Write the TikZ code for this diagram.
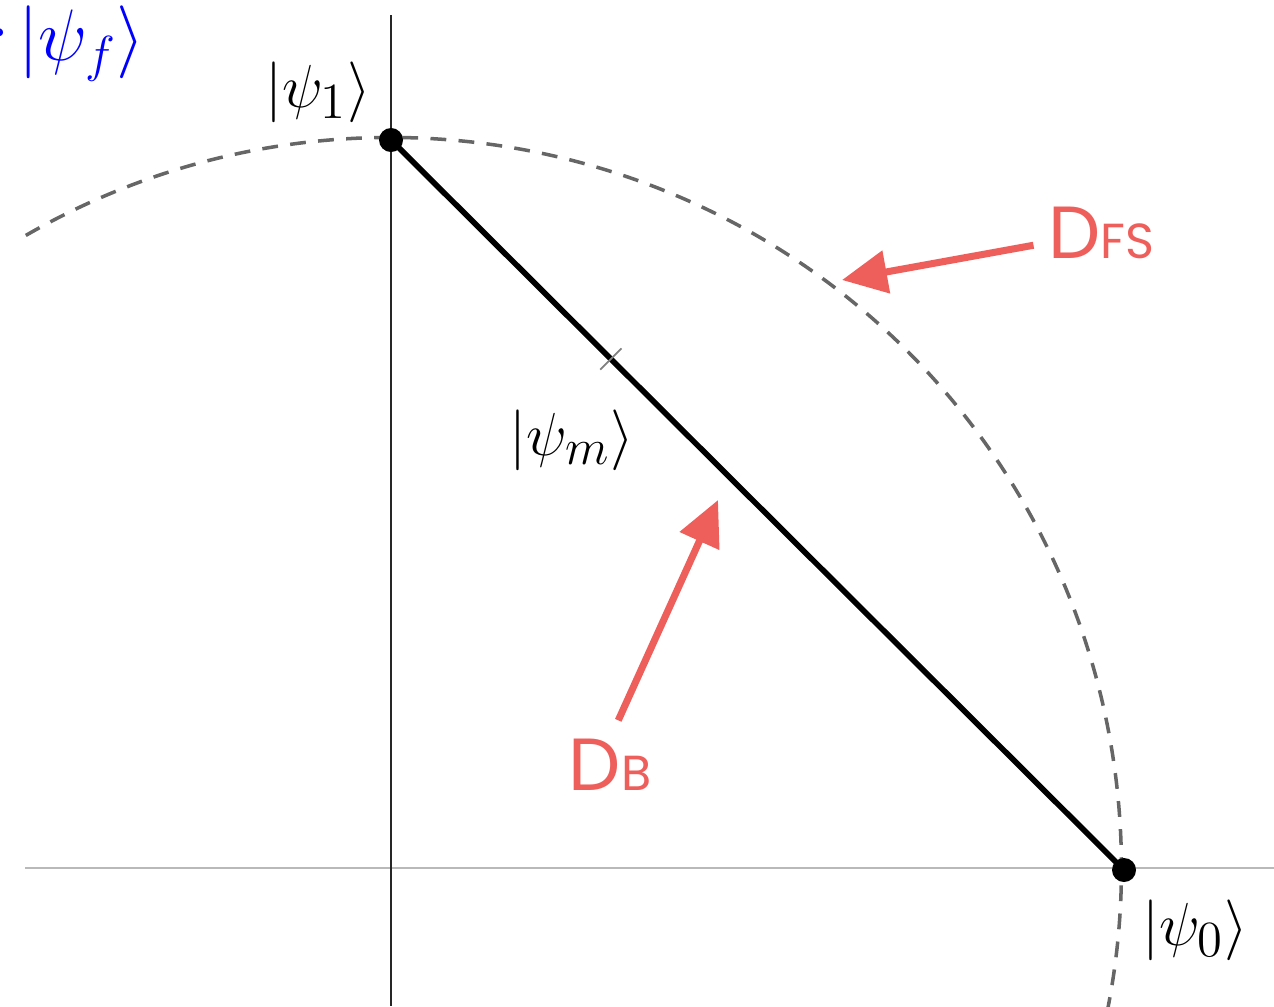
\documentclass[tikz,border=0pt]{standalone}
\usepackage{fontspec}
\usepackage{xcolor}
\usepackage{tikz}
\usetikzlibrary{positioning, arrows.meta, calc}
\newfontfamily\handfont{Poppins}
\definecolor{notered}{HTML}{EE5F5B}

\begin{document}
\begin{tikzpicture}[x=0.01cm, y=-0.01cm, >=Latex,
  dot/.style={circle,fill=black,inner sep=0pt,minimum size=0.24cm},
  ket/.style={font=\fontsize{19}{21}\selectfont,inner sep=1pt},
  note/.style={text=notered,font=\handfont,inner sep=0pt},
  notearrow/.style={draw=notered,line width=2pt,-{Triangle[length=0.45cm,width=0.42cm]}}]
  \useasboundingbox (0,0) rectangle (1274,1006);
  \coordinate (origin) at (391,868);
  \coordinate (xend) at (1274,868);
  \coordinate (xstart) at (25,868);
  \coordinate (ytop) at (391,15);
  \coordinate (ybot) at (391,1006);
  \draw[gray!55, line width=0.5pt] (xstart) -- (xend);
  \draw[black!85, line width=0.8pt] (ytop) -- (ybot);
  \draw[black!60, line width=1pt, dash pattern=on 4.5pt off 3.5pt] (origin) ++(120:7.3cm) arc[start angle=120, end angle=-14, radius=7.3cm];
  \node[dot] (p1) at (391,140) {};
  \node[dot] (p0) at (1124,870) {};
  \draw[line width=1.6pt] (p1.center) -- (p0.center);
  \coordinate (pm) at ($(p1.center)!0.30!(p0.center)$);
  \draw[gray, line width=0.5pt] ($(pm)!0.15cm!90:(p0.center)$) -- ($(pm)!0.15cm!-90:(p0.center)$);
  \node[ket] (k1) at (318,92) {$|\psi_1\rangle$};
  \node[ket] (km) at (572,440) {$|\psi_m\rangle$};
  \node[ket] (k0) at (1195,930) {$|\psi_0\rangle$};
  \node[text=blue, font=\fontsize{22}{24}\selectfont, anchor=east, inner sep=0pt] (kf) at (146,44) {$r\,|\psi_f\rangle$};
  \node[note] (dfs) at (1101,233) {{\fontsize{21}{21}\selectfont D}{\fontsize{14}{14}\selectfont FS}};
  \node[note] (db) at (610,765) {{\fontsize{21}{21}\selectfont D}{\fontsize{14}{14}\selectfont B}};
  \coordinate (fstip) at (842,280);
  \coordinate (btip) at (718,500);
  \draw[notearrow, shorten <=4pt] (dfs) -- (fstip);
  \draw[notearrow, shorten <=0.2cm] (db.north) -- (btip);
\end{tikzpicture}
\end{document}
